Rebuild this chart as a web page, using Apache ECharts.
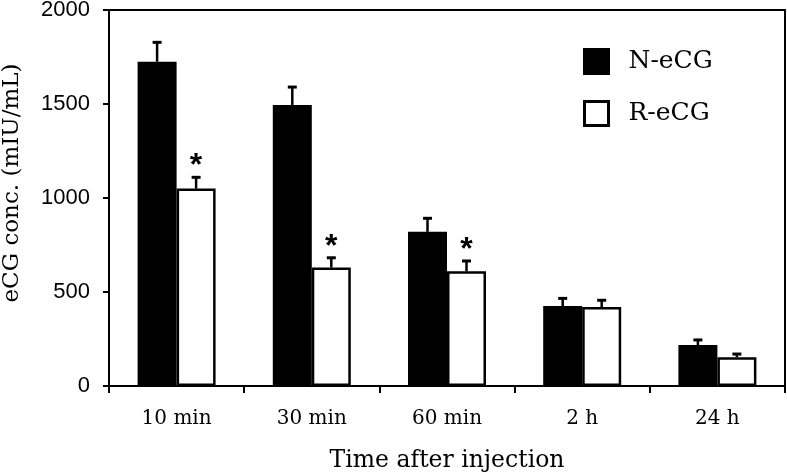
<!DOCTYPE html>
<html>
<head>
<meta charset="utf-8">
<script src="https://cdn.jsdelivr.net/npm/echarts@6/dist/echarts.min.js"></script>
<style>
html,body{margin:0;padding:0;background:#fff;}
#c{width:787px;height:472px;}
</style>
</head>
<body>
<div id="c"></div>
<script>
const categories = ['10 min', '30 min', '60 min', '2 h', '24 h'];
const nMean = [1725, 1495, 820, 425, 218];
const nSD = [103, 95, 72, 41, 27];
const rMean = [1050, 630, 610, 420, 153];
const rSD = [60, 52, 55, 36, 17];
const rSig = ['*', '*', '*', '', ''];
const yTicks = [0, 500, 1000, 1500, 2000];

const BW = 39;
const serif = 'DejaVu Serif';
const sans = 'Liberation Sans';

function errData(mean, sd, sig) {
  return mean.map((m, i) => [i, m, sd[i], sig ? sig[i] : '']);
}

function errRender(sign) {
  return function (params, api) {
    const i = api.value(0), m = api.value(1), s = api.value(2);
    const sig = api.value(3);
    const off = sign * BW / 2;
    const b = api.coord([i, m]);
    const t = api.coord([i, m + s]);
    const x = b[0] + off;
    const children = [
      { type: 'line', shape: { x1: x, y1: b[1], x2: x, y2: t[1] }, style: { stroke: '#000', lineWidth: 2.5 } },
      { type: 'line', shape: { x1: x - 4.5, y1: t[1], x2: x + 4.5, y2: t[1] }, style: { stroke: '#000', lineWidth: 3 } }
    ];
    if (sig) {
      children.push({ type: 'text', x: x, y: t[1] + 5, style: { text: sig, fill: '#000', font: 'bold 32px "Liberation Sans"', align: 'center', verticalAlign: 'bottom' } });
    }
    return { type: 'group', children: children };
  };
}

const chart = echarts.init(document.getElementById('c'), null, { renderer: 'canvas' });
chart.setOption({
  animation: false,
  backgroundColor: '#fff',
  grid: { left: 109, right: 2, top: 10, bottom: 86, show: true, borderColor: '#000', borderWidth: 2,
    backgroundColor: 'transparent', containLabel: false, outerBoundsMode: 'none' },
  legend: {
    orient: 'vertical',
    left: 578, top: 43,
    icon: 'rect',
    itemWidth: 24, itemHeight: 24, itemGap: 25,
    data: ['N-eCG', 'R-eCG'],
    itemStyle: { borderWidth: 3 },
    textStyle: { fontFamily: serif, fontSize: 25, color: '#000', padding: [2, 0, 0, 15] }
  },
  xAxis: {
    type: 'category',
    data: categories,
    name: 'Time after injection',
    nameLocation: 'middle',
    nameGap: 63,
    nameTextStyle: { fontFamily: serif, fontSize: 23.5, color: '#000' },
    axisLine: { lineStyle: { color: '#000', width: 2 } },
    axisTick: { show: true, length: 7, lineStyle: { color: '#000', width: 2 } },
    axisLabel: { fontFamily: serif, fontSize: 20, color: '#000', margin: 23 }
  },
  yAxis: {
    type: 'value',
    min: 0, max: 2000, interval: 500,
    name: 'eCG conc. (mIU/mL)',
    nameLocation: 'middle',
    nameGap: 85,
    nameTextStyle: { fontFamily: serif, fontSize: 23, color: '#000', padding: [0, 0, 0, 30] },
    axisLine: { show: true, lineStyle: { color: '#000', width: 2 } },
    axisTick: { show: true, length: 6, lineStyle: { color: '#000', width: 2 } },
    splitLine: { show: false },
    axisLabel: { fontFamily: sans, fontSize: 22, color: '#000', margin: 19,
      formatter: v => (yTicks.indexOf(v) >= 0 ? String(v) : '') }
  },
  series: [
    { name: 'N-eCG', type: 'bar', data: nMean, barWidth: BW, barGap: '0%',
      itemStyle: { color: '#000', borderColor: '#000', borderWidth: 0 } },
    { name: 'R-eCG', type: 'bar', data: rMean, barWidth: BW, barGap: '0%',
      itemStyle: { color: '#fff', borderColor: '#000', borderWidth: 2.5 } },
    { name: 'errN', type: 'custom', data: errData(nMean, nSD), renderItem: errRender(-1), z: 5,
      encode: { x: 0, y: 1 } },
    { name: 'errR', type: 'custom', data: errData(rMean, rSD, rSig), renderItem: errRender(1), z: 5,
      encode: { x: 0, y: 1 } }
  ]
});
</script>
</body>
</html>
